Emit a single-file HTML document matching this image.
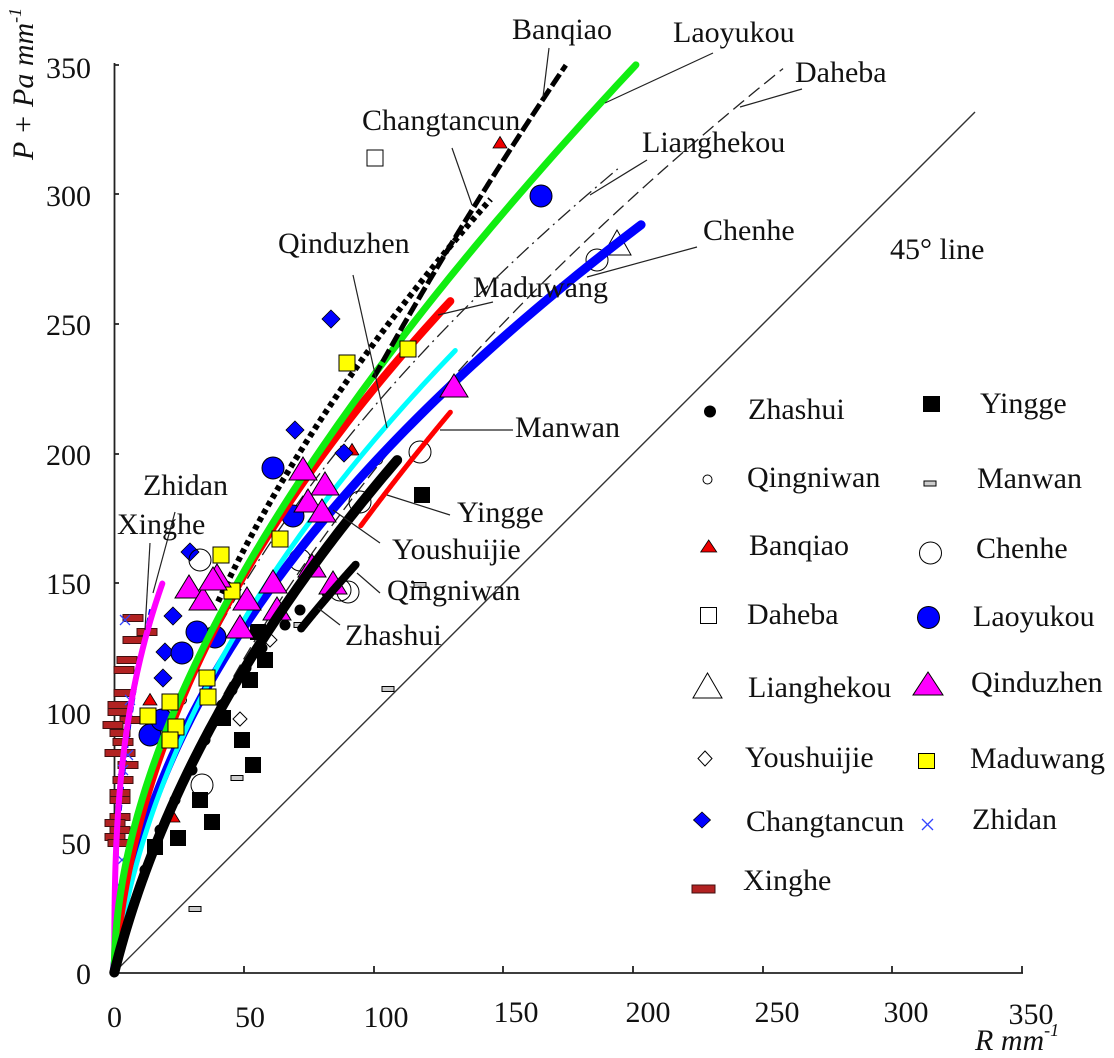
<!DOCTYPE html>
<html><head><meta charset="utf-8"><style>
html,body{margin:0;padding:0;background:#fff;}
svg{display:block;}
text{font-family:"Liberation Serif","DejaVu Serif",serif;font-size:30px;fill:#111;}
</style></head><body>
<svg id="s" width="1114" height="1058" viewBox="0 0 1114 1058" xmlns="http://www.w3.org/2000/svg">
<defs>
<polygon id="tri" points="0,-13 14,10 -14,10" fill="#ff00ff" stroke="#000" stroke-width="1"/>
<polygon id="tsm" points="0,-6.5 7,5 -7,5" fill="#ee0000" stroke="#000" stroke-width="0.8"/>
<polygon id="thol" points="0,-13 14,12 -14,12" fill="none" stroke="#000" stroke-width="1"/>
<rect id="ysq" x="-8" y="-8" width="16" height="16" fill="#ffff00" stroke="#000" stroke-width="1"/>
<rect id="bsq" x="-8" y="-8" width="16" height="16" fill="#000"/>
<rect id="hsq" x="-8" y="-8" width="16" height="16" fill="#fff" stroke="#000" stroke-width="1"/>
<polygon id="bdia" points="0,-9 9,0 0,9 -9,0" fill="#0000ff" stroke="#000" stroke-width="0.8"/>
<polygon id="hdia" points="0,-7 7,0 0,7 -7,0" fill="#fff" stroke="#000" stroke-width="1"/>
<circle id="bcir" r="11" fill="#0000ff" stroke="#000" stroke-width="1"/>
<circle id="hcir" r="11" fill="none" stroke="#000" stroke-width="1"/>
<circle id="scir" r="4.5" fill="#fff" stroke="#000" stroke-width="1"/>
<circle id="dot" r="5.5" fill="#000"/>
<rect id="mw" x="-6" y="-2.5" width="12" height="5" fill="#ccc" stroke="#000" stroke-width="1"/>
<rect id="xh" x="-10" y="-3.5" width="20" height="7" fill="#b22222" stroke="#401010" stroke-width="1"/>
<path id="zx" d="M-5,-5L5,5M-5,5L5,-5" stroke="#3344ff" stroke-width="1.3" fill="none"/>
</defs>

<!-- axes -->
<g stroke="#222" stroke-width="1.8" fill="none">
<line x1="114.5" y1="63" x2="114.5" y2="973"/>
<line x1="113.5" y1="973" x2="1023" y2="973"/>
<path d="M244,973V966M374,973V966M503,973V966M633,973V966M763,973V966M892,973V966M1022,973V966"/>
<path d="M114,843H119M114,713H119M114,583H119M114,454H119M114,324H119M114,194H119M114,65H119"/>
</g>
<!-- 45 deg line -->
<line x1="114.3" y1="972.5" x2="975" y2="112" stroke="#333" stroke-width="1.4"/>

<g id="curvesBelow"></g>

<!-- markers -->
<g>
<use href="#hsq" x="375" y="158"/>
<use href="#thol" x="617" y="243"/>
<use href="#hcir" x="597" y="260"/>
<use href="#tsm" x="500" y="143"/>
<use href="#tsm" x="352" y="450"/>
<use href="#tsm" x="150" y="700"/>
<use href="#tsm" x="173" y="817"/>
<!-- Xinghe -->
<use href="#xh" x="133" y="618"/><use href="#xh" x="147" y="632"/><use href="#xh" x="133" y="640"/><use href="#xh" x="127" y="660"/>
<use href="#xh" x="124" y="670"/><use href="#xh" x="124" y="693"/><use href="#xh" x="118" y="705"/><use href="#xh" x="130" y="720"/>
<use href="#xh" x="113" y="725"/><use href="#xh" x="120" y="733"/><use href="#xh" x="123" y="742"/><use href="#xh" x="125" y="753"/>
<use href="#xh" x="115" y="753"/><use href="#xh" x="123" y="780"/><use href="#xh" x="120" y="793"/><use href="#xh" x="120" y="800"/>
<use href="#xh" x="120" y="817"/><use href="#xh" x="115" y="823"/><use href="#xh" x="120" y="830"/><use href="#xh" x="115" y="837"/>
<use href="#xh" x="118" y="843"/><use href="#xh" x="128" y="765"/><use href="#xh" x="118" y="712"/>
<!-- Zhidan -->
<use href="#zx" x="122" y="860"/><use href="#zx" x="118" y="885"/><use href="#zx" x="117" y="910"/><use href="#zx" x="123" y="770"/>
<use href="#zx" x="128" y="755"/><use href="#zx" x="118" y="935"/><use href="#zx" x="130" y="700"/><use href="#zx" x="125" y="620"/>
<!-- Changtancun -->
<use href="#bdia" x="331" y="319"/><use href="#bdia" x="295" y="430"/><use href="#bdia" x="344" y="453"/><use href="#bdia" x="190" y="552"/>
<use href="#bdia" x="173" y="616"/><use href="#bdia" x="165" y="652"/><use href="#bdia" x="163" y="678"/>
<!-- Laoyukou -->
<use href="#bcir" x="541" y="196"/><use href="#bcir" x="273" y="468"/><use href="#bcir" x="293" y="516"/><use href="#bcir" x="215" y="637"/>
<use href="#bcir" x="197" y="632"/><use href="#bcir" x="182" y="653"/><use href="#bcir" x="150" y="735"/><use href="#bcir" x="162" y="720"/>
<!-- Chenhe -->
<use href="#hcir" x="420" y="452"/><use href="#hcir" x="360" y="502"/><use href="#hcir" x="348" y="592"/><use href="#hcir" x="300" y="560"/>
<use href="#hcir" x="200" y="560"/><use href="#hcir" x="202" y="785"/><use href="#hcir" x="340" y="590"/>
<!-- Qingniwan -->
<use href="#scir" x="378" y="460"/><use href="#scir" x="182" y="700"/>
<!-- Youshuijie -->
<use href="#hdia" x="240" y="719"/><use href="#hdia" x="270" y="640"/>
<!-- Manwan -->
<use href="#mw" x="388" y="689"/><use href="#mw" x="237" y="778"/><use href="#mw" x="195" y="909"/><use href="#mw" x="420" y="585"/><use href="#mw" x="300" y="625"/>
<!-- Yingge -->
<use href="#bsq" x="422" y="495"/><use href="#bsq" x="258" y="632"/><use href="#bsq" x="265" y="660"/><use href="#bsq" x="250" y="680"/>
<use href="#bsq" x="223" y="718"/><use href="#bsq" x="242" y="740"/><use href="#bsq" x="253" y="765"/><use href="#bsq" x="200" y="800"/>
<use href="#bsq" x="212" y="822"/><use href="#bsq" x="178" y="838"/><use href="#bsq" x="155" y="847"/>
<!-- Zhashui dots -->
<use href="#dot" x="327" y="593"/><use href="#dot" x="300" y="610"/><use href="#dot" x="285" y="625"/><use href="#dot" x="262" y="648"/>
<use href="#dot" x="246" y="668"/><use href="#dot" x="232" y="690"/><use href="#dot" x="222" y="705"/><use href="#dot" x="205" y="740"/>
<use href="#dot" x="192" y="770"/><use href="#dot" x="175" y="800"/><use href="#dot" x="160" y="830"/><use href="#dot" x="145" y="870"/>
</g>

<g id="curvesAbove"></g>

<g>
<!-- Maduwang -->
<use href="#ysq" x="347" y="363"/><use href="#ysq" x="408" y="349"/><use href="#ysq" x="280" y="539"/><use href="#ysq" x="221" y="555"/>
<use href="#ysq" x="232" y="591"/><use href="#ysq" x="207" y="678"/><use href="#ysq" x="208" y="697"/><use href="#ysq" x="170" y="702"/>
<use href="#ysq" x="148" y="716"/><use href="#ysq" x="176" y="727"/><use href="#ysq" x="170" y="740"/>
<!-- Qinduzhen -->
<use href="#tri" x="454" y="387"/><use href="#tri" x="303" y="470"/><use href="#tri" x="325" y="485"/><use href="#tri" x="308" y="502"/>
<use href="#tri" x="322" y="512"/><use href="#tri" x="189" y="588"/><use href="#tri" x="217" y="577"/><use href="#tri" x="203" y="600"/>
<use href="#tri" x="247" y="600"/><use href="#tri" x="273" y="583"/><use href="#tri" x="312" y="567"/><use href="#tri" x="333" y="584"/>
<use href="#tri" x="277" y="610"/><use href="#tri" x="213" y="580"/><use href="#tri" x="240" y="628"/>
</g>

<g id="curvesTop"></g>

<!-- leader lines -->
<g stroke="#222" stroke-width="1.2" fill="none">
<line x1="549" y1="48" x2="543" y2="97"/>
<line x1="713" y1="53" x2="605" y2="103"/>
<line x1="802" y1="89" x2="740" y2="107"/>
<line x1="452" y1="148" x2="472" y2="205"/>
<line x1="647" y1="160" x2="590" y2="195"/>
<line x1="697" y1="247" x2="587" y2="277"/>
<line x1="493" y1="302" x2="438" y2="315"/>
<line x1="353" y1="275" x2="387" y2="428"/>
<line x1="440" y1="430" x2="513" y2="430"/>
<line x1="450" y1="515" x2="387" y2="495"/>
<line x1="380" y1="543" x2="333" y2="510"/>
<line x1="380" y1="593" x2="357" y2="573"/>
<line x1="340" y1="625" x2="318" y2="608"/>
<line x1="175" y1="512" x2="153" y2="593"/>
<line x1="150" y1="543" x2="145" y2="630"/>
</g>

<!-- tick labels -->
<g>
<text x="114.5" y="1027" text-anchor="middle">0</text>
<text x="250" y="1027" text-anchor="middle">50</text>
<text x="386" y="1027" text-anchor="middle">100</text>
<text x="516" y="1022" text-anchor="middle">150</text>
<text x="648" y="1022" text-anchor="middle">200</text>
<text x="777" y="1022" text-anchor="middle">250</text>
<text x="906" y="1022" text-anchor="middle">300</text>
<text x="1031" y="1024" text-anchor="middle">350</text>
</g>
<g text-anchor="end">
<text x="91" y="984">0</text>
<text x="91" y="854">50</text>
<text x="91" y="724">100</text>
<text x="91" y="594">150</text>
<text x="91" y="465">200</text>
<text x="91" y="335">250</text>
<text x="91" y="206">300</text>
<text x="91" y="78">350</text>
</g>
<text x="975" y="1050" font-style="italic">R mm<tspan dy="-14" font-size="18">-1</tspan></text>
<text transform="translate(33,160) rotate(-90)" font-style="italic">P + Pa mm<tspan dy="-12" font-size="18">-1</tspan></text>

<!-- annotations -->
<text x="512" y="39">Banqiao</text>
<text x="673" y="42">Laoyukou</text>
<text x="795" y="82">Daheba</text>
<text x="362" y="130">Changtancun</text>
<text x="642" y="152">Lianghekou</text>
<text x="703" y="240">Chenhe</text>
<text x="278" y="253">Qinduzhen</text>
<text x="890" y="259">45° line</text>
<text x="473" y="297">Maduwang</text>
<text x="515" y="437">Manwan</text>
<text x="143" y="495">Zhidan</text>
<text x="457" y="522">Yingge</text>
<text x="117" y="534">Xinghe</text>
<text x="392" y="559">Youshuijie</text>
<text x="387" y="600">Qingniwan</text>
<text x="345" y="645">Zhashui</text>

<!-- legend -->
<circle cx="710" cy="411.5" r="6" fill="#000"/>
<text x="748" y="419">Zhashui</text>
<rect x="923" y="396" width="17" height="16" fill="#000"/>
<text x="980" y="413">Yingge</text>
<circle cx="707.5" cy="479.5" r="4.5" fill="#fff" stroke="#000" stroke-width="1"/>
<text x="747" y="487">Qingniwan</text>
<rect x="924" y="481" width="12" height="5" fill="#ccc" stroke="#000" stroke-width="1"/>
<text x="977" y="488">Manwan</text>
<polygon points="708.7,540 716.7,552 700.7,552" fill="#ee0000" stroke="#000" stroke-width="0.8"/>
<text x="749" y="555">Banqiao</text>
<circle cx="930.5" cy="553" r="11" fill="#fff" stroke="#000" stroke-width="1"/>
<text x="976" y="558">Chenhe</text>
<rect x="700.5" y="607.5" width="16" height="16" fill="#fff" stroke="#000" stroke-width="1"/>
<text x="747" y="624">Daheba</text>
<circle cx="928.5" cy="617.5" r="11" fill="#0000ff" stroke="#000" stroke-width="1"/>
<text x="973" y="626">Laoyukou</text>
<polygon points="707.5,673 722,698 693,698" fill="none" stroke="#000" stroke-width="1"/>
<text x="748" y="697">Lianghekou</text>
<polygon points="928,672 943,695 913,695" fill="#ff00ff" stroke="#000" stroke-width="1"/>
<text x="971" y="692">Qinduzhen</text>
<polygon points="705,751 712,758.5 705,766 698,758.5" fill="#fff" stroke="#000" stroke-width="1"/>
<text x="745" y="767">Youshuijie</text>
<rect x="918.5" y="753.5" width="16" height="15" fill="#ffff00" stroke="#000" stroke-width="1"/>
<text x="970" y="768">Maduwang</text>
<polygon points="702,812 710.5,820 702,828 693.5,820" fill="#0000ff" stroke="#000" stroke-width="0.8"/>
<text x="746" y="831">Changtancun</text>
<path d="M922,819L933,830M922,830L933,819" stroke="#3344ff" stroke-width="1.3"/>
<text x="972" y="829">Zhidan</text>
<rect x="692" y="885" width="23" height="8" fill="#b22222" stroke="#401010" stroke-width="1"/>
<text x="743" y="890">Xinghe</text>
</svg>
<script>
(function(){
var NS="http://www.w3.org/2000/svg";
function X(R){return 114.3+R*2.595;}
function Y(V){return 972.5-V*2.594;}
function sq(a,r0){return function(R){return a*(Math.sqrt(R+r0)-Math.sqrt(r0));};}
function pw(c,b){return function(R){return c*Math.pow(R,b);};}
function pl(c,k){return function(R){return c*Math.sqrt(R)+k*R;};}
function d(f,r1,r2){var s="",n=160;for(var i=0;i<=n;i++){var t=i/n;var R=(r1===0)?r2*t*t:r1+(r2-r1)*t;s+=(i?"L":"M")+X(R).toFixed(2)+","+Y(f(R)).toFixed(2);}return s;}
function add(g,f,r1,r2,col,w,dash,cap){var p=document.createElementNS(NS,"path");p.setAttribute("d",d(f,r1,r2));p.setAttribute("fill","none");p.setAttribute("stroke",col);p.setAttribute("stroke-width",w);p.setAttribute("stroke-linecap",cap||"round");p.setAttribute("stroke-linejoin","round");if(dash)p.setAttribute("stroke-dasharray",dash);document.getElementById(g).appendChild(p);}
add("curvesBelow",sq(26.4,10),0,257.7,"#222",1.3,"14 6","butt");
add("curvesBelow",sq(23.4,0.5),0,194,"#222",1.3,"16 5 2 5","butt");
add("curvesBelow",pw(42.7,0.45),0,14,"#0000ff",3,"6 3","butt");
add("curvesAbove",pw(54,0.35),0,18.5,"#ff00ff",6);
add("curvesAbove",sq(21.7,1),0,203,"#0000ff",9);
add("curvesAbove",sq(24,2.5),0,131.4,"#00ffff",5);
add("curvesAbove",sq(30.2,30),95,129.5,"#ff0000",5);
add("curvesAbove",sq(24.6,0.8),0,129.5,"#ff0000",8);
add("curvesAbove",pl(19.08,0.395),0,201,"#11ee11",7);
add("curvesAbove",sq(27.4,1.5),40,145,"#000",6,"5 4","butt");
add("curvesAbove",sq(44.3,50),100,174,"#000",5,"14 4","butt");
add("curvesTop",sq(22.5,10),72,93,"#000",8);
add("curvesTop",sq(25.5,10),0,109,"#000",10);
})();
</script>
</body></html>
